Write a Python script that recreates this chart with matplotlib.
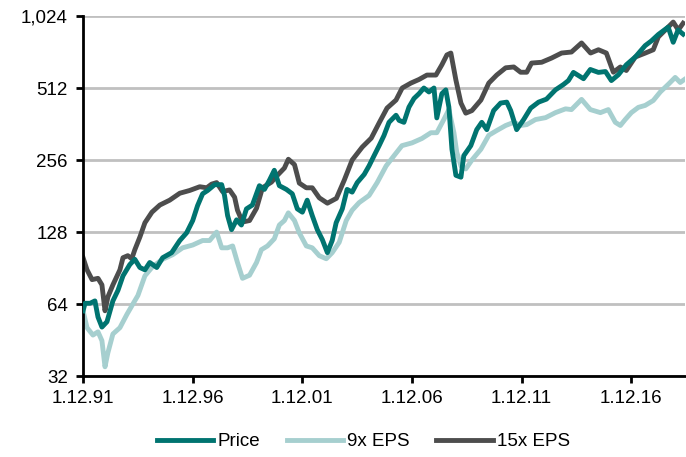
import matplotlib
matplotlib.use('Agg')
import matplotlib.pyplot as plt
from matplotlib.ticker import FixedLocator, NullLocator

plt.rcParams['font.family'] = ['Liberation Sans', 'DejaVu Sans']

# данные: годы (десятичные) и значения
price_t = [1991.92, 1992.01, 1992.24, 1992.46, 1992.60, 1992.78, 1993.01, 1993.28, 1993.51, 1993.74,
           1994.05, 1994.28, 1994.51, 1994.74, 1994.96, 1995.28, 1995.55, 1995.96, 1996.33, 1996.64,
           1996.92, 1997.14, 1997.37, 1997.60, 1997.92, 1998.24, 1998.37, 1998.51, 1998.69, 1998.92,
           1999.14, 1999.37, 1999.64, 1999.96, 2000.19, 2000.42, 2000.64, 2000.87, 2001.19, 2001.46,
           2001.69, 2001.92, 2002.14, 2002.37, 2002.60, 2002.83, 2003.06, 2003.28, 2003.46, 2003.74,
           2003.96, 2004.19, 2004.42, 2004.74, 2004.96, 2005.19, 2005.42, 2005.64, 2005.87, 2006.19,
           2006.33, 2006.55, 2006.78, 2007.01, 2007.24, 2007.46, 2007.69, 2007.92, 2008.05, 2008.28,
           2008.46, 2008.60, 2008.74, 2008.92, 2009.15, 2009.28, 2009.60, 2009.87, 2010.10, 2010.33,
           2010.64, 2010.96, 2011.24, 2011.42, 2011.69, 2012.01, 2012.33, 2012.69, 2013.05, 2013.46,
           2013.83, 2014.05, 2014.28, 2014.74, 2015.05, 2015.42, 2015.74, 2016.01, 2016.33, 2016.69,
           2017.10, 2017.55, 2017.83, 2018.15, 2018.60, 2018.83, 2019.05, 2019.28]
price = [60, 64.5, 64.5, 66, 56.5, 51.3, 54, 66, 73, 84,
         93.6, 98.5, 91, 89, 95.5, 91, 100, 105, 118, 127,
         143, 165, 185, 191, 202, 202, 182, 150, 131, 144,
         137, 160, 166, 200, 193, 211, 232, 200, 193, 185,
         160, 155, 174, 150, 131, 119, 105, 118, 140, 160,
         193, 188, 206, 223, 242, 267, 294, 324, 368, 394,
         375, 368, 426, 463, 485, 512, 493, 512, 384, 485,
         503, 426, 284, 221, 217, 267, 294, 343, 368, 343,
         412, 443, 447, 412, 343, 378, 422, 447, 460, 503,
         530, 550, 595, 560, 612, 595, 600, 550, 582, 640,
         690, 770, 805, 857, 920, 795, 895, 860]

eps9_t = [1991.92, 1992.10, 1992.37, 1992.60, 1992.78, 1992.92, 1993.05, 1993.28, 1993.60, 1993.92,
          1994.19, 1994.42, 1994.74, 1995.10, 1995.55, 1996.01, 1996.46, 1996.92, 1997.37, 1997.69,
          1998.01, 1998.24, 1998.51, 1998.74, 1998.96, 1999.19, 1999.51, 1999.83, 2000.05, 2000.33,
          2000.64, 2000.87, 2001.10, 2001.28, 2001.56, 2001.78, 2002.10, 2002.37, 2002.69, 2003.01,
          2003.28, 2003.60, 2003.92, 2004.19, 2004.51, 2004.96, 2005.33, 2005.74, 2006.10, 2006.46,
          2006.92, 2007.37, 2007.78, 2008.05, 2008.37, 2008.60, 2008.83, 2008.96, 2009.15, 2009.37,
          2009.65, 2010.06, 2010.42, 2010.78, 2011.19, 2011.56, 2011.87, 2012.15, 2012.55, 2013.01,
          2013.46, 2013.92, 2014.19, 2014.65, 2015.05, 2015.51, 2015.87, 2016.19, 2016.42, 2016.64,
          2016.92, 2017.24, 2017.55, 2017.92, 2018.24, 2018.60, 2018.92, 2019.15, 2019.33]
eps9 = [60, 51, 47.5, 49, 45, 35, 40, 48, 51, 58,
        64, 69.5, 84, 92, 98.5, 103, 110, 113, 118, 118,
        128, 110, 110, 112, 95.5, 82, 84.5, 95.5, 108, 112,
        120, 137, 143, 154, 143, 127, 112, 110, 102, 99,
        105, 116, 143, 158, 170, 182, 206, 242, 267, 294,
        302, 315, 333, 333, 378, 416, 333, 276, 242, 235,
        256, 284, 325, 340, 357, 368, 357, 360, 378, 385,
        404, 419, 416, 459, 416, 404, 416, 368, 357, 378,
        404, 425, 433, 454, 493, 530, 567, 540, 555]

eps15_t = [1991.92, 1992.10, 1992.33, 1992.60, 1992.78, 1992.92, 1993.05, 1993.28, 1993.60, 1993.74,
           1993.96, 1994.14, 1994.28, 1994.51, 1994.74, 1995.06, 1995.42, 1995.87, 1996.33, 1996.78,
           1997.24, 1997.56, 1997.78, 1998.01, 1998.28, 1998.60, 1998.83, 1998.96, 1999.19, 1999.51,
           1999.83, 2000.10, 2000.51, 2000.78, 2001.10, 2001.28, 2001.56, 2001.78, 2002.10, 2002.37,
           2002.69, 2003.06, 2003.47, 2003.83, 2004.19, 2004.65, 2005.06, 2005.42, 2005.78, 2006.19,
           2006.47, 2006.87, 2007.24, 2007.60, 2008.01, 2008.28, 2008.51, 2008.69, 2008.92, 2009.15,
           2009.37, 2009.65, 2010.06, 2010.42, 2010.78, 2011.19, 2011.56, 2011.87, 2012.15, 2012.37,
           2012.83, 2013.28, 2013.74, 2014.19, 2014.65, 2015.06, 2015.42, 2015.78, 2016.10, 2016.42,
           2016.69, 2017.10, 2017.56, 2017.92, 2018.15, 2018.47, 2018.83, 2019.06, 2019.28]
eps15 = [100, 89, 81, 82, 77, 60, 68.5, 77, 89, 100,
         102, 99, 108, 122, 140, 155, 166, 174, 186, 191,
         198, 196, 203, 206, 189, 192, 179, 158, 141, 143,
         161, 196, 207, 221, 237, 258, 245, 205, 196, 196,
         178, 169, 177, 211, 256, 290, 316, 366, 422, 456,
         512, 537, 556, 580, 580, 640, 704, 717, 553, 443,
         402, 412, 456, 537, 580, 622, 627, 596, 596, 651,
         656, 683, 717, 724, 790, 717, 740, 717, 596, 627,
         606, 690, 717, 740, 837, 895, 966, 895, 955]

yticks = [32, 64, 128, 256, 512, 1024]
ytick_labels = ['32', '64', '128', '256', '512', '1,024']
xticks = [1991.917, 1996.917, 2001.917, 2006.917, 2011.917, 2016.917]
xtick_labels = ['1.12.91', '1.12.96', '1.12.01', '1.12.06', '1.12.11', '1.12.16']

fig = plt.figure(figsize=(6.86, 4.57), dpi=100)
ax = fig.add_axes([0.121, 0.177, 0.877, 0.788])

ax.plot(price_t, price, color='#007470', lw=3.5, label='Price', zorder=3)
ax.plot(eps9_t, eps9, color='#A6CFCF', lw=3.5, label='9x EPS', zorder=2)
ax.plot(eps15_t, eps15, color='#4D4D4D', lw=3.5, label='15x EPS', zorder=2.5)

ax.set_yscale('log', base=2)
ax.set_ylim(32, 1024)
ax.yaxis.set_major_locator(FixedLocator(yticks))
ax.yaxis.set_minor_locator(NullLocator())
ax.set_yticklabels(ytick_labels)
ax.set_xlim(1991.917, 2019.35)
ax.set_xticks(xticks)
ax.set_xticklabels(xtick_labels)

ax.grid(axis='y', color='#C0C0C0', lw=2)
ax.set_axisbelow(True)
for s in ['top', 'right']:
    ax.spines[s].set_visible(False)
ax.spines['left'].set_linewidth(2)
ax.spines['bottom'].set_linewidth(2)
ax.tick_params(axis='both', labelsize=13.5, width=2, length=5, direction='out', colors='black')
ax.tick_params(axis='y', pad=6)
ax.tick_params(axis='x', pad=5)

fig.legend(loc='lower center', bbox_to_anchor=(0.53, -0.022), ncol=3, frameon=False,
           fontsize=13.5, handlelength=3.0, handletextpad=0.25, columnspacing=1.4)

fig.savefig('out.png', dpi=100)
